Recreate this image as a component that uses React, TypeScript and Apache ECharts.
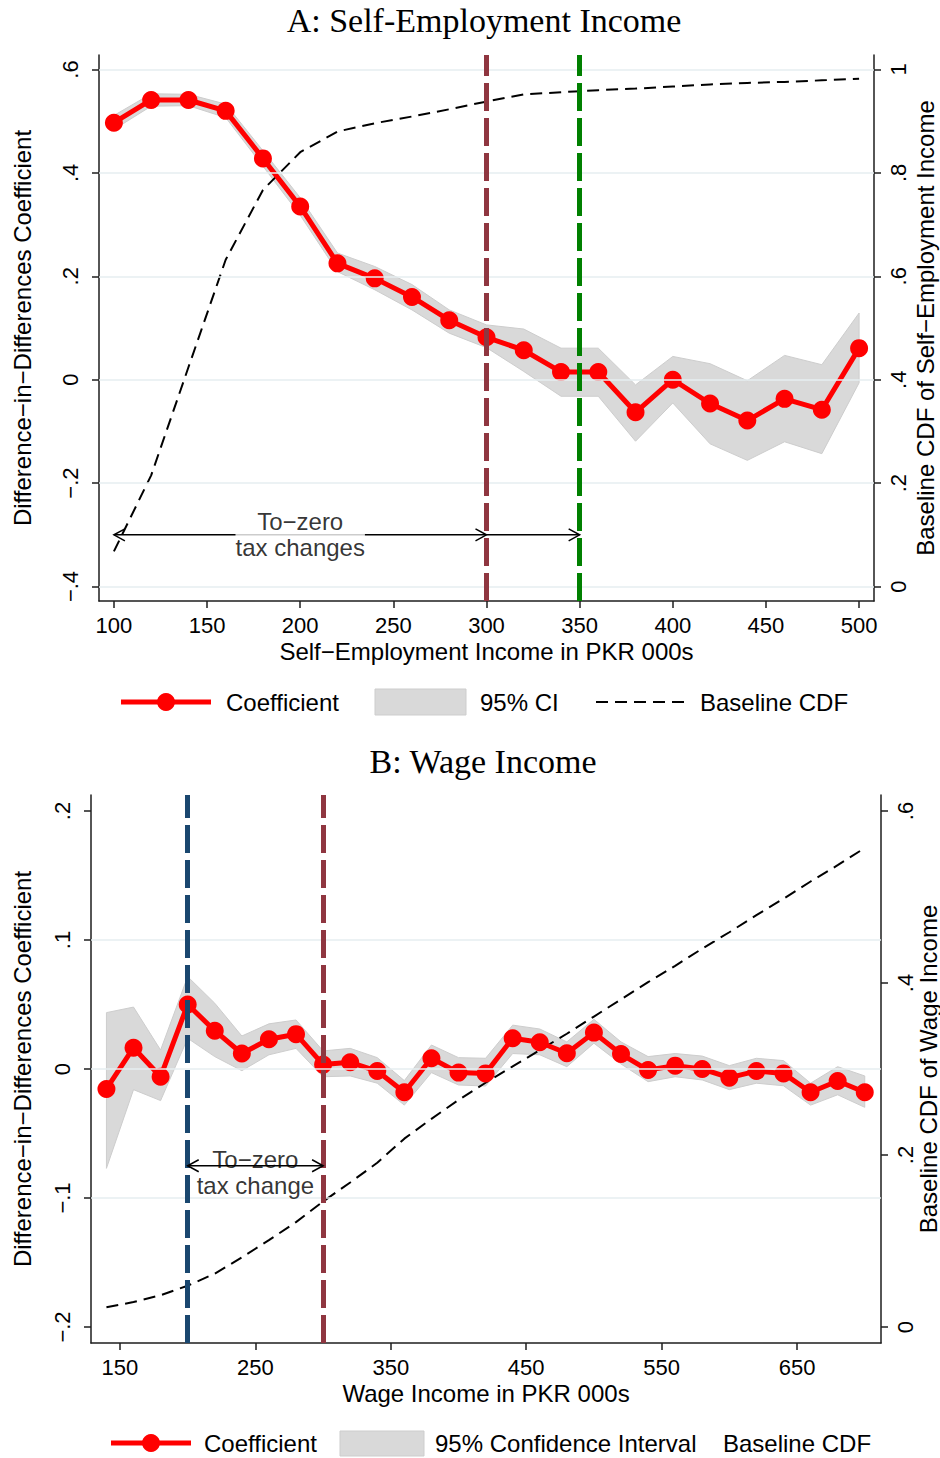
import React, { useEffect, useRef } from "react";
import * as echarts from "echarts";

// ---------- Panel A: self-employment income (PKR 000s) ----------
const seIncome = [100, 120, 140, 160, 180, 200, 220, 240, 260, 280, 300, 320, 340, 360, 380, 400, 420, 440, 460, 480, 500];
const seCoef = [0.497, 0.541, 0.541, 0.52, 0.428, 0.335, 0.225, 0.196, 0.16, 0.115, 0.082, 0.057, 0.015, 0.015, -0.063, 0.0, -0.046, -0.079, -0.037, -0.058, 0.061];
const seCiLow = [0.484, 0.529, 0.53, 0.507, 0.413, 0.318, 0.209, 0.174, 0.135, 0.09, 0.062, 0.016, -0.032, -0.032, -0.119, -0.045, -0.124, -0.156, -0.12, -0.143, -0.006];
const seCiHigh = [0.511, 0.553, 0.552, 0.533, 0.443, 0.352, 0.245, 0.219, 0.184, 0.135, 0.106, 0.098, 0.061, 0.061, -0.01, 0.045, 0.031, -0.002, 0.047, 0.029, 0.129];
const seCdf = [0.068, 0.215, 0.424, 0.632, 0.767, 0.84, 0.88, 0.896, 0.909, 0.923, 0.938, 0.952, 0.956, 0.96, 0.963, 0.967, 0.971, 0.974, 0.976, 0.979, 0.982];

const seXTicks = [100, 150, 200, 250, 300, 350, 400, 450, 500];
const seLeftTicks = [-0.4, -0.2, 0, 0.2, 0.4, 0.6];
const seLeftLabels = ["−.4", "−.2", "0", ".2", ".4", ".6"];
const seRightTicks = [0, 0.2, 0.4, 0.6, 0.8, 1];
const seRightLabels = ["0", ".2", ".4", ".6", ".8", "1"];
const seGridLines = [-0.4, -0.2, 0, 0.2, 0.4, 0.6];
const seThresholds = [300, 350];
const seThresholdColors = ["#8f3640", "#008000"];
// [from, to, level, head at start, head at end]
const seArrows = [
  [100, 300, -0.3, 1, 1],
  [300, 350, -0.3, 0, 1],
];
const seNote = { x: 200, y: -0.3, text: "To−zero\ntax changes" };

// ---------- Panel B: wage income (PKR 000s) ----------
const wageIncome = [140, 160, 180, 200, 220, 240, 260, 280, 300, 320, 340, 360, 380, 400, 420, 440, 460, 480, 500, 520, 540, 560, 580, 600, 620, 640, 660, 680, 700];
const wageCoef = [-0.0155, 0.0165, -0.006, 0.05, 0.0297, 0.012, 0.023, 0.027, 0.0034, 0.0052, -0.0016, -0.018, 0.0083, -0.0028, -0.0034, 0.0238, 0.0207, 0.0122, 0.0282, 0.0116, -0.0008, 0.0026, 0.0, -0.0067, -0.0016, -0.0034, -0.018, -0.0093, -0.018];
const wageCiLow = [-0.077, -0.016, -0.0245, 0.0238, 0.0096, -0.0013, 0.011, 0.016, -0.006, -0.0054, -0.011, -0.028, -0.0028, -0.0124, -0.0132, 0.012, 0.011, 0.0018, 0.02, 0.0039, -0.0098, -0.006, -0.0085, -0.016, -0.011, -0.013, -0.028, -0.02, -0.0297];
const wageCiHigh = [0.0437, 0.048, 0.0147, 0.0716, 0.051, 0.0256, 0.035, 0.038, 0.014, 0.016, 0.0088, -0.009, 0.0186, 0.0088, 0.0083, 0.034, 0.031, 0.021, 0.0385, 0.021, 0.0096, 0.012, 0.01, 0.0026, 0.0083, 0.0065, -0.011, 0.0018, -0.0054];
const wageCdf = [0.023, 0.029, 0.037, 0.048, 0.062, 0.081, 0.101, 0.122, 0.146, 0.168, 0.191, 0.219, 0.242, 0.264, 0.284, 0.303, 0.322, 0.341, 0.361, 0.381, 0.401, 0.42, 0.44, 0.459, 0.479, 0.498, 0.518, 0.537, 0.557];

const wageXTicks = [150, 250, 350, 450, 550, 650];
const wageLeftTicks = [-0.2, -0.1, 0, 0.1, 0.2];
const wageLeftLabels = ["−.2", "−.1", "0", ".1", ".2"];
const wageRightTicks = [0, 0.2, 0.4, 0.6];
const wageRightLabels = ["0", ".2", ".4", ".6"];
const wageGridLines = [-0.1, 0, 0.1];
const wageThresholds = [200, 300];
const wageThresholdColors = ["#1a476f", "#8f3640"];
const wageArrows = [[200, 300, -0.075, 1, 1]];
const wageNote = { x: 250, y: -0.0806, text: "To−zero\ntax change" };

// ---------- styling ----------
const SANS = '"Liberation Sans", Arial, Helvetica, sans-serif';
const SERIF = '"Liberation Serif", "Times New Roman", serif';
const RED = "#ff0000";
const BAND_FILL = "#d9d9d9";
const BAND_EDGE = "#cdcdcd";
const GRID_COLOR = "#e6eef0";
const AXIS_COLOR = "#1e1e1e";
const TEXT_SIZE = 24;

const pick = (ticks: number[], labels: string[]) => (v: number) => {
  const i = ticks.findIndex((t) => Math.abs(t - v) < 1e-9);
  return i < 0 ? "" : labels[i];
};

function xAxisOf(gridIndex: number, min: number, max: number, ticks: number[], name: string) {
  return {
    type: "value",
    gridIndex,
    min,
    max,
    position: "bottom",
    axisLine: { show: true, onZero: false, lineStyle: { color: AXIS_COLOR, width: 1.5 } },
    axisTick: { show: true, length: 7, customValues: ticks, lineStyle: { color: AXIS_COLOR, width: 1.5 } },
    axisLabel: {
      show: true,
      customValues: ticks,
      formatter: (v: number) => String(v),
      margin: 13,
      fontSize: 22,
      color: "#000",
      fontFamily: SANS,
    },
    splitLine: { show: false },
    name,
    nameLocation: "middle",
    nameGap: 38,
    nameMoveOverlap: false,
    nameTextStyle: { fontSize: TEXT_SIZE, color: "#000", fontFamily: SANS },
  };
}

function yAxisOf(
  gridIndex: number,
  position: "left" | "right",
  min: number,
  max: number,
  ticks: number[],
  labels: string[],
  name: string,
  labelMargin: number,
  nameGap: number
) {
  return {
    type: "value",
    gridIndex,
    position,
    min,
    max,
    axisLine: { show: true, onZero: false, lineStyle: { color: AXIS_COLOR, width: 1.5 } },
    axisTick: { show: true, length: 7, customValues: ticks, lineStyle: { color: AXIS_COLOR, width: 1.5 } },
    axisLabel: {
      show: true,
      customValues: ticks,
      formatter: pick(ticks, labels),
      rotate: 90,
      margin: labelMargin,
      fontSize: 22,
      color: "#000",
      fontFamily: SANS,
    },
    splitLine: { show: false },
    name,
    nameLocation: "middle",
    nameRotate: 90,
    nameGap,
    nameMoveOverlap: false,
    nameTextStyle: { fontSize: TEXT_SIZE, color: "#000", fontFamily: SANS },
  };
}

function bandSeries(xi: number, yi: number, xs: number[], lo: number[], hi: number[]) {
  return {
    type: "custom",
    xAxisIndex: xi,
    yAxisIndex: yi,
    z: 2,
    silent: true,
    data: xs.map((x, i) => [x, lo[i], hi[i]]),
    encode: { x: 0, y: [1, 2] },
    renderItem: (params: any, api: any) => {
      if (params.dataIndex !== 0) return null;
      const pts: number[][] = [];
      for (let i = 0; i < xs.length; i++) pts.push(api.coord([xs[i], hi[i]]));
      for (let i = xs.length - 1; i >= 0; i--) pts.push(api.coord([xs[i], lo[i]]));
      return {
        type: "polygon",
        shape: { points: pts },
        style: { fill: BAND_FILL, stroke: BAND_EDGE, lineWidth: 1 },
      };
    },
  };
}

function arrowSeries(xi: number, yi: number, arrows: number[][]) {
  return {
    type: "custom",
    xAxisIndex: xi,
    yAxisIndex: yi,
    z: 5,
    silent: true,
    data: arrows,
    encode: { x: [0, 1], y: 2 },
    renderItem: (_params: any, api: any) => {
      const a = api.coord([api.value(0), api.value(2)]);
      const b = api.coord([api.value(1), api.value(2)]);
      const hl = 11;
      const hw = 6;
      const stroke = { stroke: "#000", lineWidth: 1.5, fill: null };
      const children: any[] = [
        { type: "line", shape: { x1: a[0], y1: a[1], x2: b[0], y2: b[1] }, style: { stroke: "#000", lineWidth: 1.5 } },
      ];
      if (api.value(3) === 1) {
        children.push({
          type: "polyline",
          shape: { points: [[a[0] + hl, a[1] - hw], [a[0], a[1]], [a[0] + hl, a[1] + hw]] },
          style: stroke,
        });
      }
      if (api.value(4) === 1) {
        children.push({
          type: "polyline",
          shape: { points: [[b[0] - hl, b[1] - hw], [b[0], b[1]], [b[0] - hl, b[1] + hw]] },
          style: stroke,
        });
      }
      return { type: "group", children };
    },
  };
}

function noteSeries(xi: number, yi: number, note: { x: number; y: number; text: string }, boxed: boolean) {
  return {
    type: "scatter",
    xAxisIndex: xi,
    yAxisIndex: yi,
    z: 6,
    silent: true,
    symbolSize: 1,
    itemStyle: { color: "rgba(0,0,0,0)" },
    data: [[note.x, note.y]],
    label: {
      show: true,
      position: "inside",
      formatter: note.text,
      fontSize: TEXT_SIZE,
      lineHeight: 26,
      color: "#000",
      fontFamily: SANS,
      align: "center",
      backgroundColor: boxed ? "#fff" : "transparent",
      padding: 0,
    },
  };
}

function guideSeries(xi: number, yi: number, gridYs: number[], xs: number[], colors: string[]) {
  return [
    {
      type: "line",
      xAxisIndex: xi,
      yAxisIndex: yi,
      z: 1,
      silent: true,
      data: [],
      markLine: {
        silent: true,
        symbol: "none",
        label: { show: false },
        lineStyle: { color: GRID_COLOR, width: 1.5, type: "solid" },
        data: gridYs.map((v) => ({ yAxis: v })),
      },
    },
    {
      type: "line",
      xAxisIndex: xi,
      yAxisIndex: yi,
      z: 1,
      silent: true,
      data: [],
      markLine: {
        silent: true,
        symbol: "none",
        label: { show: false },
        lineStyle: { width: 5, type: [28, 7] },
        data: xs.map((v, i) => ({ xAxis: v, lineStyle: { color: colors[i], width: 5, type: [28, 7] } })),
      },
    },
  ];
}

function coefSeries(xi: number, yi: number, xs: number[], ys: number[]) {
  return {
    type: "line",
    xAxisIndex: xi,
    yAxisIndex: yi,
    z: 4,
    silent: true,
    data: xs.map((x, i) => [x, ys[i]]),
    symbol: "circle",
    symbolSize: 18,
    showSymbol: true,
    itemStyle: { color: RED, borderWidth: 0 },
    lineStyle: { color: RED, width: 5 },
  };
}

function cdfSeries(xi: number, yi: number, xs: number[], ys: number[]) {
  return {
    type: "line",
    xAxisIndex: xi,
    yAxisIndex: yi,
    z: 3,
    silent: true,
    data: xs.map((x, i) => [x, ys[i]]),
    symbol: "none",
    lineStyle: { color: "#000", width: 2, type: [12, 7] },
  };
}

function txt(text: string, x: number, y: number, size: number, family: string, align = "left") {
  return {
    type: "text",
    x,
    y,
    silent: true,
    style: {
      text,
      fill: "#000",
      fontSize: size,
      fontFamily: family,
      align,
      textAlign: align,
      verticalAlign: "middle",
      textVerticalAlign: "middle",
    },
  };
}

function legendCoef(x1: number, x2: number, y: number) {
  return [
    { type: "line", silent: true, shape: { x1, y1: y, x2, y2: y }, style: { stroke: RED, lineWidth: 5 } },
    { type: "circle", silent: true, shape: { cx: (x1 + x2) / 2, cy: y, r: 9 }, style: { fill: RED } },
  ];
}

function legendBand(x: number, y: number, w: number, h: number) {
  return { type: "rect", silent: true, shape: { x, y, width: w, height: h }, style: { fill: BAND_FILL, stroke: BAND_EDGE, lineWidth: 1 } };
}

export default function App() {
  const ref = useRef<HTMLDivElement>(null);

  useEffect(() => {
    if (!ref.current) return;
    const chart = echarts.init(ref.current, undefined, { renderer: "svg" });

    const option: any = {
      animation: false,
      backgroundColor: "#fff",
      textStyle: { fontFamily: SANS },
      grid: [
        { left: 99, top: 55, right: 66, height: 546, containLabel: false, outerBoundsMode: "none" },
        { left: 91, top: 795, right: 59, height: 548, containLabel: false, outerBoundsMode: "none" },
      ],
      xAxis: [
        xAxisOf(0, 92, 508, seXTicks, "Self−Employment Income in PKR 000s"),
        xAxisOf(1, 128.6, 712, wageXTicks, "Wage Income in PKR 000s"),
      ],
      yAxis: [
        yAxisOf(0, "left", -0.428, 0.628, seLeftTicks, seLeftLabels, "Difference−in−Differences Coefficient", 18, 65),
        yAxisOf(0, "right", -0.028, 1.028, seRightTicks, seRightLabels, "Baseline CDF of Self−Employment Income", 13, 39),
        yAxisOf(1, "left", -0.2124, 0.2124, wageLeftTicks, wageLeftLabels, "Difference−in−Differences Coefficient", 18, 57),
        yAxisOf(1, "right", -0.0186, 0.6186, wageRightTicks, wageRightLabels, "Baseline CDF of Wage Income", 13, 35),
      ],
      series: [
        ...guideSeries(0, 0, seGridLines, seThresholds, seThresholdColors),
        bandSeries(0, 0, seIncome, seCiLow, seCiHigh),
        cdfSeries(0, 1, seIncome, seCdf),
        coefSeries(0, 0, seIncome, seCoef),
        arrowSeries(0, 0, seArrows),
        noteSeries(0, 0, seNote, true),

        ...guideSeries(1, 2, wageGridLines, wageThresholds, wageThresholdColors),
        bandSeries(1, 2, wageIncome, wageCiLow, wageCiHigh),
        cdfSeries(1, 3, wageIncome, wageCdf),
        coefSeries(1, 2, wageIncome, wageCoef),
        arrowSeries(1, 2, wageArrows),
        noteSeries(1, 2, wageNote, false),
      ],
      graphic: [
        txt("A: Self-Employment Income", 484, 20, 34, SERIF, "center"),
        txt("B: Wage Income", 483, 761, 34, SERIF, "center"),

        ...legendCoef(121, 211, 702),
        txt("Coefficient", 226, 702, TEXT_SIZE, SANS),
        legendBand(375, 689, 91, 26),
        txt("95% CI", 480, 702, TEXT_SIZE, SANS),
        { type: "line", silent: true, shape: { x1: 596, y1: 702, x2: 686, y2: 702 }, style: { stroke: "#000", lineWidth: 2, lineDash: [12, 7] } },
        txt("Baseline CDF", 700, 702, TEXT_SIZE, SANS),

        ...legendCoef(111, 191, 1443),
        txt("Coefficient", 204, 1443, TEXT_SIZE, SANS),
        legendBand(340, 1431, 84, 25),
        txt("95% Confidence Interval", 435, 1443, TEXT_SIZE, SANS),
        txt("Baseline CDF", 723, 1443, TEXT_SIZE, SANS),
      ],
    };

    chart.setOption(option);
    return () => chart.dispose();
  }, []);

  return (
    <div
      ref={ref}
      style={{ position: "absolute", left: 0, top: 0, width: 940, height: 1458, background: "#fff" }}
    />
  );
}
